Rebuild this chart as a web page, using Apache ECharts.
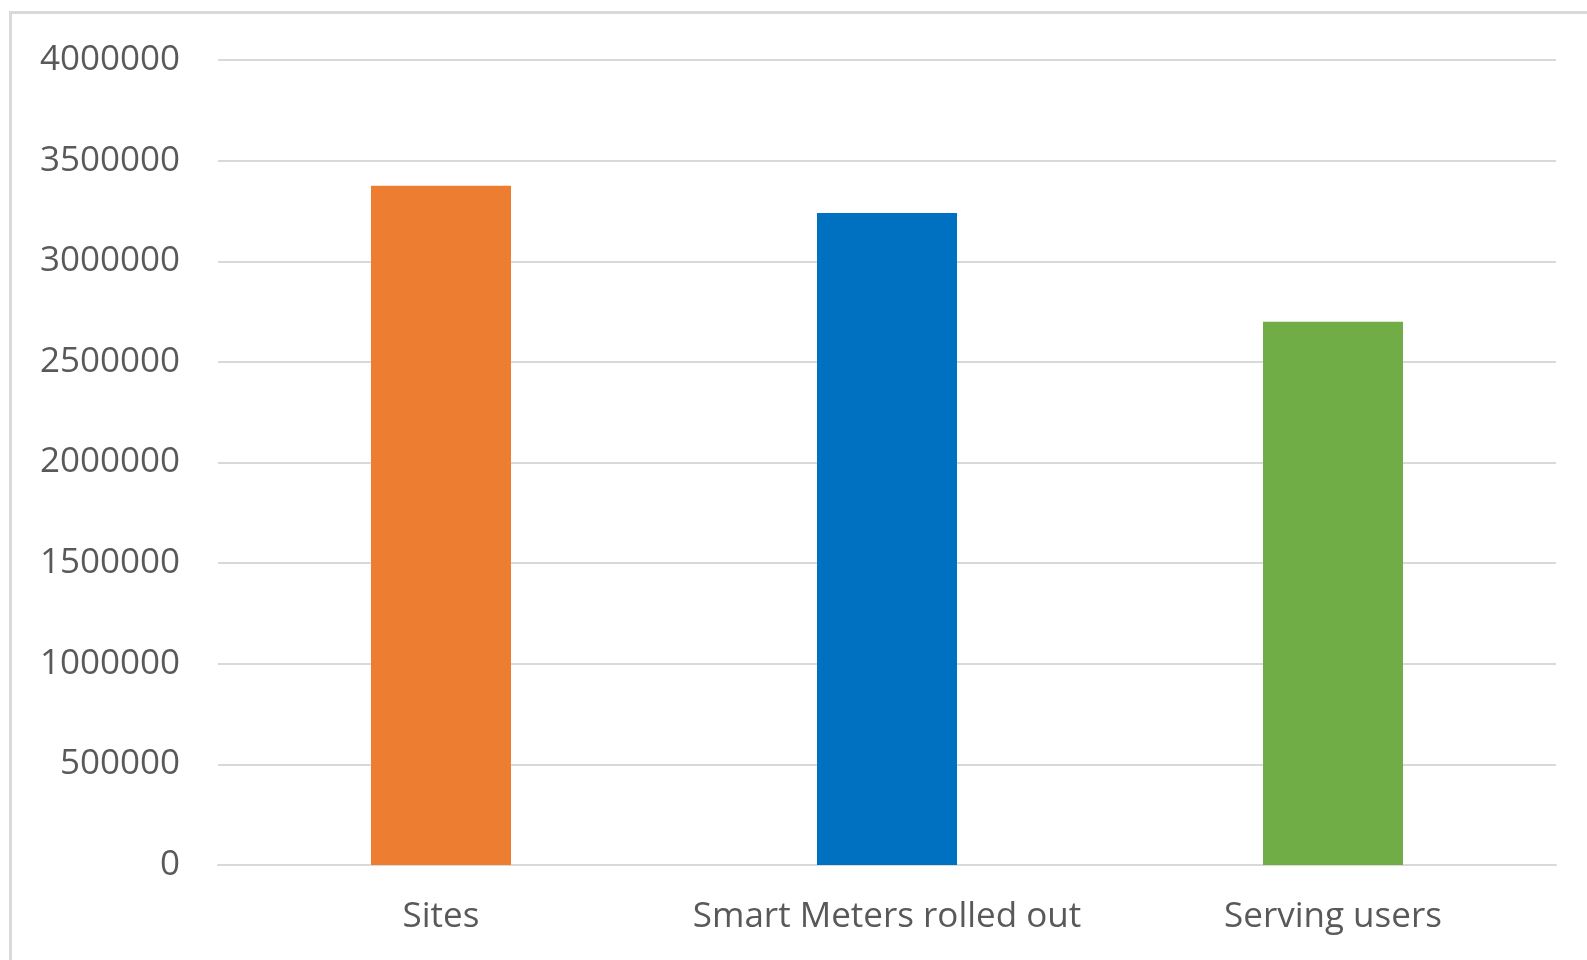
<!DOCTYPE html>
<html lang="en">
<head>
    <meta charset="UTF-8">
    <title>Smart meters</title>
    <script src="https://cdn.jsdelivr.net/npm/echarts@6/dist/echarts.min.js"></script>
    <style>
        html, body { margin: 0; padding: 0; background: #fff; }
        #frame { position: absolute; left: 9px; top: 11px; width: 1578px; height: 949px;
                 border-top: 3px solid #d9d9d9; border-left: 3px solid #d9d9d9; }
        #main { position: absolute; left: 0; top: 0; width: 1587px; height: 960px; }
    </style>
</head>
<body>
<div id="frame"></div>
<div id="main"></div>
<script type="text/javascript">
    // data
    var categories = ['Sites', 'Smart Meters rolled out', 'Serving users'];
    var values = [3375000, 3240000, 2700000];
    var colors = ['#ed7d31', '#0070c0', '#70ad47'];
    var yMax = 4000000;
    var yStep = 500000;

    var myChart = echarts.init(document.getElementById('main'));

    var barData = [];
    for (var i = 0; i < values.length; i++) {
        barData.push({ value: values[i], itemStyle: { color: colors[i] } });
    }

    myChart.setOption({
        animation: false,
        grid: { left: 218, right: 31, top: 60, bottom: 95 },
        xAxis: {
            type: 'category',
            data: categories,
            axisLine: { lineStyle: { color: '#d9d9d9', width: 2 } },
            axisTick: { show: false },
            axisLabel: { color: '#595959', fontFamily: 'Open Sans', fontSize: 35, margin: 35, interval: 0 }
        },
        yAxis: {
            type: 'value',
            min: 0,
            max: yMax,
            interval: yStep,
            axisLine: { show: false },
            axisTick: { show: false },
            splitLine: { lineStyle: { color: '#d9d9d9', width: 2 } },
            axisLabel: {
                color: '#595959', fontFamily: 'Open Sans', fontSize: 35, margin: 38,
                formatter: function (v) { return String(v); }
            }
        },
        series: [{
            type: 'bar',
            data: barData,
            barWidth: 140
        }]
    });
</script>
</body>
</html>
